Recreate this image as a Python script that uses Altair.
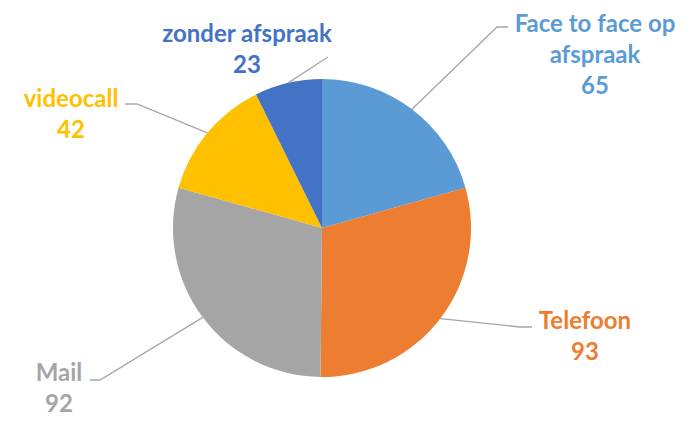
import math
import altair as alt
import pandas as pd

# ---- data ----
categories = ["Face to face op afspraak", "Telefoon", "Mail", "videocall", "zonder afspraak"]
values = [65, 93, 92, 42, 23]
label_text = ["Face to face op\nafspraak", "Telefoon", "Mail", "videocall", "zonder afspraak"]
colors = ["#5B9BD5", "#ED7D31", "#A5A5A5", "#FFC000", "#4472C4"]

# ---- layout (pixel offsets from pie centre, y downwards) ----
R = 149
W, H = 679, 409
CX, CY = 314, 220
# position of the first text line of each label
label_first = [(273, -203), (263, 94), (-263, 146), (-251, -128), (-75, -193)]
leader_elbow = [(175, -201), (198, 99), (-222, 152), (-185, -124), (6, -171)]
leader_end = [(186, -201), (210, 99), (-232, 152), (-197, -124), (6, -171)]

total = sum(values)
starts, ends, mids = [], [], []
acc = 0
for v in values:
    starts.append(acc)
    acc += v
    ends.append(acc)
    mids.append((starts[-1] + acc) / 2 / total * 2 * math.pi)

pie_df = pd.DataFrame({
    "cat": categories, "value": values, "start": starts, "end": ends,
    "idx": list(range(len(values))), "cx": [0] * len(values), "cy": [0] * len(values),
})

text_df = pd.DataFrame({
    "cat": categories,
    "label": [f"{t}\n{v}" for t, v in zip(label_text, values)],
    "x": [p[0] for p in label_first],
    "y": [p[1] for p in label_first],
})

rows = []
for i, c in enumerate(categories):
    a = mids[i]
    pts = [(R * math.sin(a), -R * math.cos(a)), leader_elbow[i], leader_end[i]]
    for k, (x, y) in enumerate(pts):
        rows.append({"cat": c, "k": k, "x": x, "y": y})
line_df = pd.DataFrame(rows)

xs = alt.Scale(domain=[-CX, W - CX], nice=False, zero=False)
ys = alt.Scale(domain=[-CY, H - CY], nice=False, zero=False, reverse=True)
cs = alt.Scale(domain=categories, range=colors)

pie = alt.Chart(pie_df).mark_arc(radius=R).encode(
    theta=alt.Theta("start:Q", scale=alt.Scale(domain=[0, total])),
    theta2="end:Q",
    x=alt.X("cx:Q", scale=xs, axis=None),
    y=alt.Y("cy:Q", scale=ys, axis=None),
    color=alt.Color("cat:N", scale=cs, legend=None),
    order="idx:Q",
)

lines = alt.Chart(line_df).mark_line(color="#A6A6A6", strokeWidth=1.3).encode(
    x=alt.X("x:Q", scale=xs, axis=None),
    y=alt.Y("y:Q", scale=ys, axis=None),
    detail="cat:N",
    order="k:Q",
)

texts = alt.Chart(text_df).mark_text(
    font="Lato", fontWeight="bold", fontSize=24, lineBreak="\n", lineHeight=31,
    align="center", baseline="middle",
).encode(
    x=alt.X("x:Q", scale=xs, axis=None),
    y=alt.Y("y:Q", scale=ys, axis=None),
    text="label:N",
    color=alt.Color("cat:N", scale=cs, legend=None),
)

chart = alt.layer(pie, lines, texts).properties(
    width=W, height=H, padding=0, autosize=alt.AutoSizeParams(type="none"),
    background="white",
).configure_view(stroke=None)

chart.save("out.html", embed_options={"renderer": "svg", "actions": False})
